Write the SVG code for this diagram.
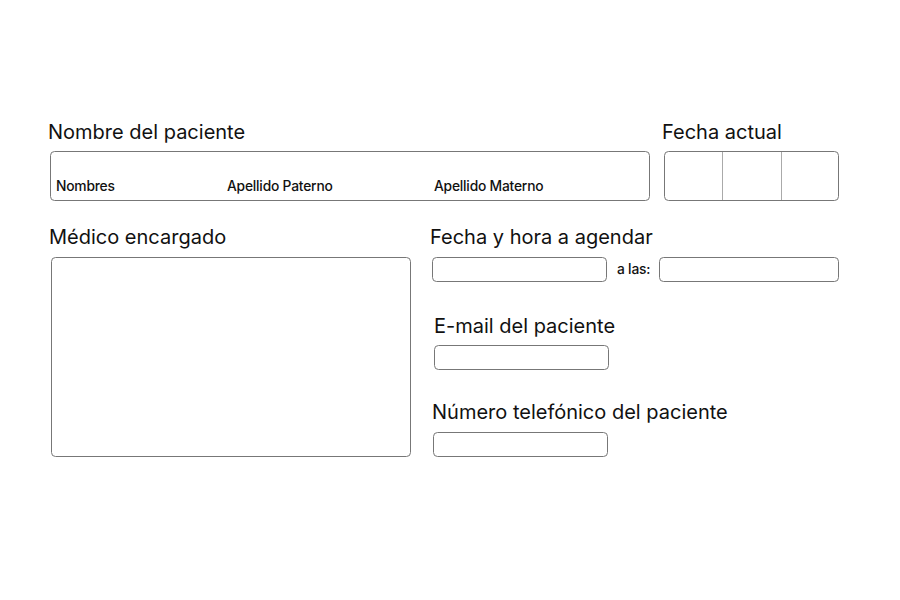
<svg xmlns="http://www.w3.org/2000/svg" width="900" height="600" viewBox="0 0 900 600">
<style>
.h{font-family:Inter,"Liberation Sans",sans-serif;font-size:20px;fill:#111;letter-spacing:0}
.s{font-family:Inter,"Liberation Sans",sans-serif;font-size:13.8px;font-weight:500;fill:#111;letter-spacing:-0.2px}
.box{fill:#fff;stroke:#777;stroke-width:1}
.div{stroke:#aaa;stroke-width:1}
</style>
<rect width="900" height="600" fill="#fff"/>
<g id="nombre">
<text class="h" x="48" y="139">Nombre del paciente</text>
<rect class="box" x="50.5" y="151.5" width="599" height="49" rx="4"/>
<text class="s" x="56" y="191">Nombres</text>
<text class="s" x="227" y="191">Apellido Paterno</text>
<text class="s" x="434" y="191">Apellido Materno</text>
</g>
<g id="fecha-actual">
<text class="h" x="662" y="139">Fecha actual</text>
<rect class="box" x="664.5" y="151.5" width="174" height="49" rx="4"/>
<line class="div" x1="722.5" y1="152" x2="722.5" y2="200"/>
<line class="div" x1="781.5" y1="152" x2="781.5" y2="200"/>
</g>
<g id="medico">
<text class="h" x="49" y="244">Médico encargado</text>
<rect class="box" x="51.5" y="257.5" width="359" height="199" rx="4"/>
</g>
<g id="fecha-hora">
<text class="h" x="430" y="244">Fecha y hora a agendar</text>
<rect class="box" x="432.5" y="257.5" width="174" height="24" rx="4"/>
<text class="s" x="617" y="274">a las:</text>
<rect class="box" x="659.5" y="257.5" width="179" height="24" rx="4"/>
</g>
<g id="email">
<text class="h" x="434" y="333">E-mail del paciente</text>
<rect class="box" x="434.5" y="345.5" width="174" height="24" rx="4"/>
</g>
<g id="telefono">
<text class="h" x="432" y="419">Número telefónico del paciente</text>
<rect class="box" x="433.5" y="432.5" width="174" height="24" rx="4"/>
</g>
<g id="connectors"/>
</svg>
